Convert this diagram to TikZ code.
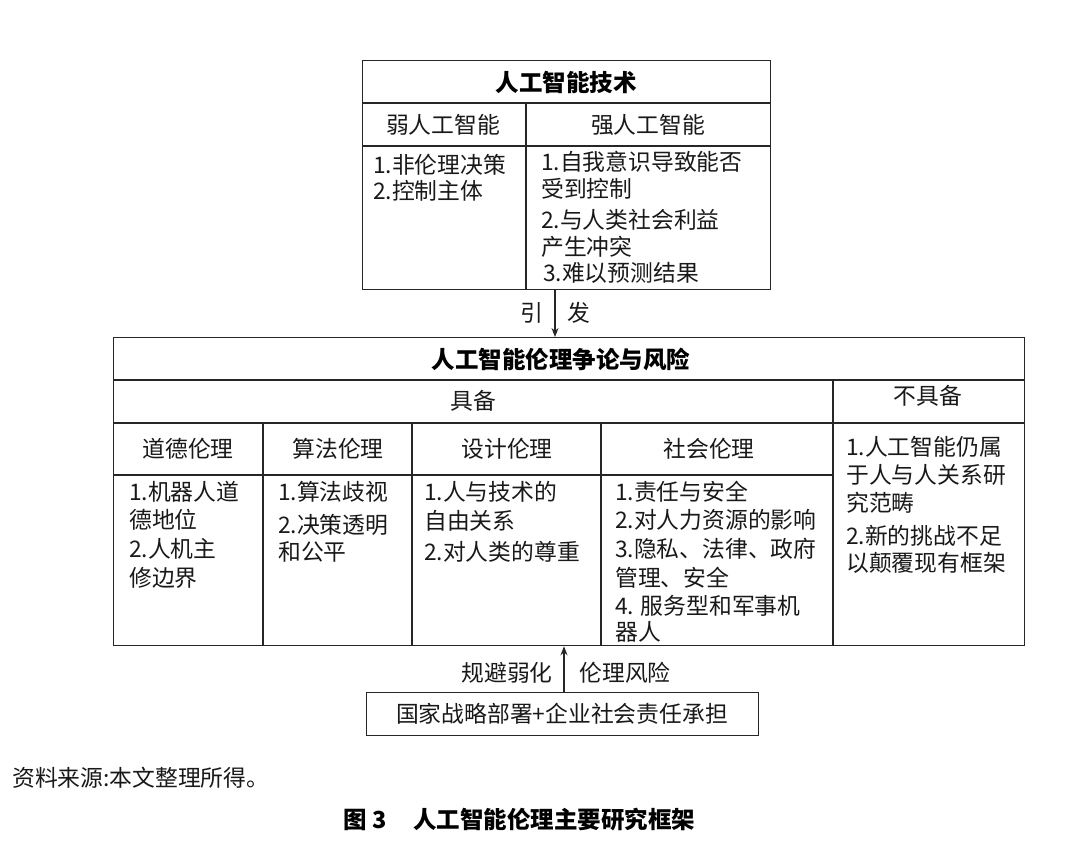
\documentclass[tikz,border=0pt]{standalone}
\usepackage{fontspec}
\setmainfont{Noto Sans CJK SC}
\usetikzlibrary{arrows.meta,calc}
\begin{document}
\begin{tikzpicture}[x=1pt,y=-1pt,
  rule/.style={line width=1.3pt, draw=black!85},
  box/.style={rule, inner sep=0pt, anchor=north west},
  txt/.style={font=\fontsize{22.8}{26}\selectfont, inner sep=0pt, text=black!90},
  lt/.style={txt, anchor=west},
  ttl/.style={font=\fontsize{23.5}{26}\selectfont\bfseries, inner sep=0pt, text=black},
  arr/.style={line width=1.2pt, draw=black!85, -{Stealth[length=9pt,width=7pt]}}]
\useasboundingbox[fill=white] (0,0) rectangle (1080,851);

% ---------- top box ----------
\node[box, minimum width=408pt, minimum height=229pt] (tech) at (362,60) {};
\draw[rule] (362,103) -- (770,103);
\draw[rule] (362,146) -- (770,146);
\draw[rule] (526,103) -- (526,289);
\node[ttl] (techT) at (566,82) {人工智能技术};
\node[txt] (weakH) at (443,125) {弱人工智能};
\node[txt] (strongH) at (648,125) {强人工智能};
\node[lt] (w1) at (373,165) {1.非伦理决策};
\node[lt] (w2) at (373,191) {2.控制主体};
\node[lt] (s1) at (541,162) {1.自我意识导致能否};
\node[lt] (s1b) at (541,189) {受到控制};
\node[lt] (s2) at (541,220) {2.与人类社会利益};
\node[lt] (s2b) at (541,247) {产生冲突};
\node[lt] (s3) at (543,273) {3.难以预测结果};

% ---------- middle table ----------
\node[box, minimum width=911pt, minimum height=308pt] (ethics) at (113,337) {};
\draw[rule] (113,380) -- (1024,380);
\draw[rule] (113,423) -- (1024,423);
\draw[rule] (833,380) -- (833,645);
\draw[rule] (113,475) -- (833,475);
\foreach \xx in {263,412,601} \draw[rule] (\xx,423) -- (\xx,645);
\node[ttl] (ethT) at (561,359) {人工智能伦理争论与风险};
\node[txt] (have) at (473,401) {具备};
\node[txt] (nothave) at (928,396) {不具备};
\node[txt] (c1) at (188,449) {道德伦理};
\node[txt] (c2) at (338,449) {算法伦理};
\node[txt] (c3) at (507,449) {设计伦理};
\node[txt] (c4) at (709,449) {社会伦理};

\node[lt] (m1) at (129,492) {1.机器人道};
\node[lt] (m1b) at (129,520) {德地位};
\node[lt] (m2) at (129,549) {2.人机主};
\node[lt] (m2b) at (129,578) {修边界};

\node[lt] (a1) at (278,492) {1.算法歧视};
\node[lt] (a2) at (278,525) {2.决策透明};
\node[lt] (a2b) at (278,552) {和公平};

\node[lt] (d1) at (424,492) {1.人与技术的};
\node[lt] (d1b) at (424,521) {自由关系};
\node[lt] (d2) at (424,552) {2.对人类的尊重};

\node[lt] (so1) at (615,492) {1.责任与安全};
\node[lt] (so2) at (615,520) {2.对人力资源的影响};
\node[lt] (so3) at (615,549) {3.隐私、法律、政府};
\node[lt] (so3b) at (615,578) {管理、安全};
\node[lt] (so4) at (615,606) {4. 服务型和军事机};
\node[lt] (so4b) at (615,632) {器人};

\node[lt] (n1) at (846,447) {1.人工智能仍属};
\node[lt] (n1b) at (846,475) {于人与人关系研};
\node[lt] (n1c) at (846,503) {究范畴};
\node[lt] (n2) at (846,536) {2.新的挑战不足};
\node[lt] (n2b) at (846,563) {以颠覆现有框架};

% ---------- top arrow ----------
\coordinate (trig) at (555,289);
\draw[arr] (trig) -- (trig |- ethics.north);
\node[txt] (yin) at (532,313) {引};
\node[txt] (fa) at (579,313) {发};

% ---------- bottom box ----------
\node[box, minimum width=392pt, minimum height=43pt] (policy) at (366,692) {};
\node[txt] (polT) at (562,714) {国家战略部署+企业社会责任承担};
\coordinate (up) at (564,692);
\draw[arr] (up) -- (up |- ethics.south);
\node[txt] (avoid) at (507,673) {规避弱化};
\node[txt] (risk) at (625,673) {伦理风险};

% ---------- notes ----------
\node[lt] (src) at (12,778) {资料来源:本文整理所得。};
\node[ttl, anchor=west] (figno) at (343,820) {图 3};
\node[ttl, anchor=west] (cap) at (413,820) {人工智能伦理主要研究框架};
\end{tikzpicture}
\end{document}
